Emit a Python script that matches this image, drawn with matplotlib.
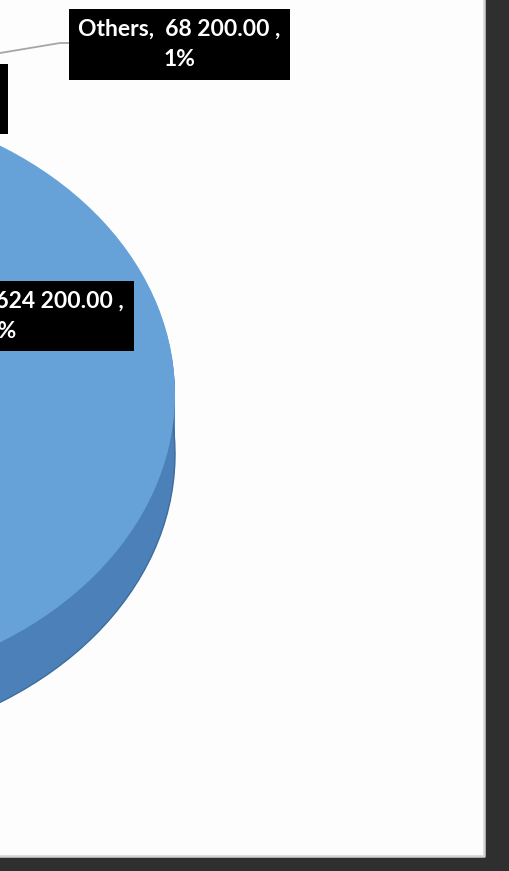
import numpy as np
import matplotlib.pyplot as plt
from matplotlib.patches import Rectangle
from matplotlib.lines import Line2D

# data (slices of the pie, counter-clockwise from startangle)
names = ["Domestic", "Others", "Imports"]
values = [5624200.00, 68200.00, 1167600.00]
pcts = ["82%", "1%", "17%"]

face_colors = ["#66a2d8", "#ed7d31", "#a5a5a5"]
side_colors = ["#4c80b8", "#c5641f", "#858585"]

W, H = 510, 871
PW, PH = 485, 857          # white panel in pixels
cx, cy = -205, 394         # pie centre (pixels, top origin)
a, b = 380, 295            # ellipse half-axes in pixels
depth = 60                 # thickness in pixels


def to_data(px, py):
    return (px - cx) / a, (cy - py) / b


fig = plt.figure(figsize=(W / 100, H / 100), dpi=100)
fig.patch.set_facecolor("#2f2f2f")
fig.patches.append(Rectangle((0, (H - PH) / H), PW / W, PH / H, transform=fig.transFigure,
                             facecolor="#fdfdfd", edgecolor="none", zorder=-5))
# light grey rim on the right and bottom of the panel
fig.lines.append(Line2D([0, (PW - 1) / W, (PW - 1) / W], [(H - PH + 1) / H, (H - PH + 1) / H, 1],
                        transform=fig.transFigure, color="#d4d4d4", linewidth=1.8, zorder=-4))

ax = fig.add_axes([0, (H - PH) / H, PW / W, PH / H])
ax.set_zorder(2)

start = -204
d = depth / b
for k in np.linspace(d, 0, 40)[:-1]:
    ax.pie(values, startangle=start, colors=side_colors, center=(0, -k), radius=1,
           wedgeprops=dict(linewidth=0))
# darker rim along the bottom of the side
ax.pie(values, startangle=start, colors=side_colors, center=(0, -d), radius=1,
       wedgeprops=dict(linewidth=1.0, edgecolor="#3f6d9e"))
ax.pie(values, startangle=start, colors=face_colors, center=(0, 0), radius=1,
       wedgeprops=dict(linewidth=0))

ax.set_aspect("auto")
x0, y0 = to_data(0, 0)
x1, y1 = to_data(PW, PH)
ax.set_xlim(x0, x1)
ax.set_ylim(y1, y0)
ax.axis("off")

lbl = [f"{n},  {format(v, ',.2f').replace(',', ' ')} ,\n{p}" for n, v, p in zip(names, values, pcts)]

font = dict(family=["Lato", "DejaVu Sans"], weight="bold", size=16.5, color="white",
            linespacing=1.55, multialignment="center")
box = dict(boxstyle="square,pad=0.42", facecolor="black", edgecolor="none")

# main slice label (inside)
ax.text(*to_data(124, 316), lbl[0], ha="right", va="center", bbox=box, **font)
# others label with leader line
ax.text(*to_data(179.5, 44.5), lbl[1], ha="center", va="center", bbox=box, **font, zorder=5)
# third slice label
ax.text(*to_data(-2, 99), lbl[2], ha="right", va="center", bbox=box, **font)

fr = np.array(values) / sum(values)
ang = np.deg2rad(start + 360 * (fr[0] + fr[1] / 2))
ex, ey = 1.03 * np.cos(ang), 1.03 * np.sin(ang)
mx, my = to_data(60, 43)
bx, by = to_data(69, 43)
ax.plot([ex, mx, bx], [ey, my, by], color="#a6a6a6", linewidth=1.3, zorder=4)

fig.savefig("out.png", dpi=100, facecolor=fig.get_facecolor())
